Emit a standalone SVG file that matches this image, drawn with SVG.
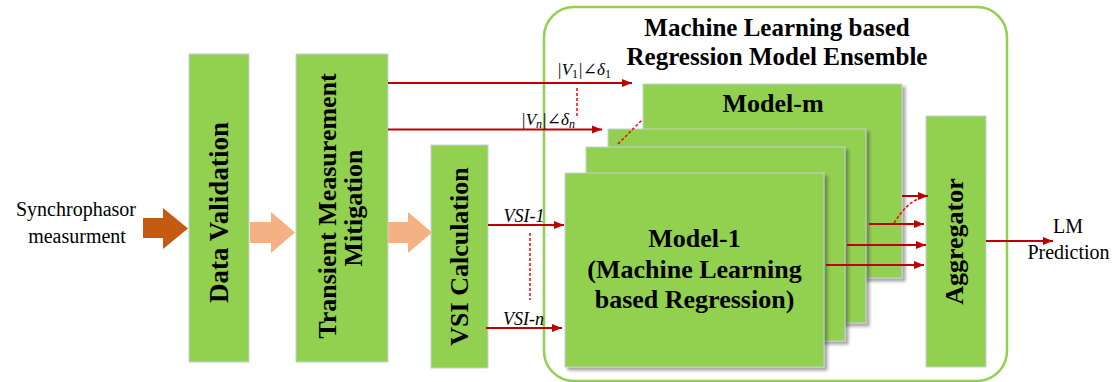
<svg xmlns="http://www.w3.org/2000/svg" width="1119" height="382" viewBox="0 0 1119 382">
<style>
.box{fill:#92D050;stroke:#c5d0da;stroke-width:1}
.bt{font-family:"Liberation Serif","Times New Roman",Tinos,"DejaVu Serif",serif;font-weight:bold;fill:#000}
.rt{font-family:"Liberation Serif","Times New Roman",Tinos,"DejaVu Serif",serif;fill:#000}
.red{stroke:#C00000;stroke-width:2;fill:none}
.dash{stroke:#FF0000;stroke-width:1.5;stroke-dasharray:3 2;fill:none}
.math{font-family:"Liberation Serif","Times New Roman","DejaVu Serif",serif;font-style:italic;font-size:17px;fill:#000}
</style>
<defs>
<marker id="ah" viewBox="0 0 10 10" refX="10" refY="5" markerWidth="10" markerHeight="10" markerUnits="userSpaceOnUse" orient="auto">
<path d="M0,1 L10,5 L0,9 z" fill="#C00000"/>
</marker>
<filter id="sh" x="-5%" y="-5%" width="115%" height="115%">
<feDropShadow dx="3" dy="3" stdDeviation="1.5" flood-color="#333" flood-opacity="0.45"/>
</filter>
</defs>

<g id="input-label">
<text class="rt" x="76" y="216" font-size="20" text-anchor="middle">Synchrophasor</text>
<text class="rt" x="77" y="243" font-size="20" text-anchor="middle">measurment</text>
</g>

<g id="block-arrows">
<path d="M143,218 L163,218 L163,208 L188,228.5 L163,249 L163,238 L143,238 z" fill="#C55A11"/>
<path d="M250,222 L271,222 L271,212 L295,232.5 L271,253 L271,243 L250,243 z" fill="#F4B183"/>
<path d="M388,222 L408,222 L408,212 L432,232.5 L408,253 L408,243 L388,243 z" fill="#F4B183"/>
</g>

<g id="data-validation">
<rect class="box" x="189" y="54" width="60" height="308"/>
<text class="bt" font-size="27" text-anchor="middle" transform="translate(228,212.5) rotate(-90)">Data Validation</text>
</g>

<g id="transient-mitigation">
<rect class="box" x="296" y="54" width="92" height="308"/>
<text class="bt" font-size="26" text-anchor="middle" transform="translate(336,206) rotate(-90)">Transient Measurement</text>
<text class="bt" font-size="26" text-anchor="middle" transform="translate(362,208) rotate(-90)">Mitigation</text>
</g>

<g id="vsi-calculation">
<rect class="box" x="431" y="145" width="57" height="223"/>
<text class="bt" font-size="26" text-anchor="middle" transform="translate(468,256.5) rotate(-90)">VSI Calculation</text>
</g>

<g id="ensemble">
<rect x="544" y="7" width="463" height="374" rx="30" ry="30" fill="none" stroke="#92D050" stroke-width="2.5"/>
<text class="bt" x="777" y="36" font-size="25" text-anchor="middle">Machine Learning based</text>
<text class="bt" x="777" y="65" font-size="25" text-anchor="middle">Regression Model Ensemble</text>
</g>

<g id="model-m">
<rect class="box" x="643" y="84" width="259" height="194" filter="url(#sh)"/>
<text class="bt" x="773" y="112" font-size="26" text-anchor="middle">Model-m</text>
</g>
<g id="model-3">
<rect class="box" x="608" y="129" width="258" height="194" filter="url(#sh)"/>
</g>
<g id="model-2">
<rect class="box" x="586" y="147" width="259" height="194" filter="url(#sh)"/>
</g>
<g id="model-1">
<rect class="box" x="565" y="173" width="259" height="194" filter="url(#sh)"/>
<text class="bt" x="694.5" y="247" font-size="26" text-anchor="middle">Model-1</text>
<text class="bt" x="694.5" y="278" font-size="26" text-anchor="middle">(Machine Learning</text>
<text class="bt" x="694.5" y="308" font-size="26" text-anchor="middle">based Regression)</text>
</g>

<g id="aggregator">
<rect class="box" x="926" y="116" width="60" height="251"/>
<text class="bt" font-size="26" text-anchor="middle" transform="translate(963,241.5) rotate(-90)">Aggregator</text>
</g>

<g id="output-label">
<text class="rt" x="1068" y="233" font-size="20" text-anchor="middle">LM</text>
<text class="rt" x="1068.5" y="259" font-size="20" text-anchor="middle">Prediction</text>
</g>

<g id="connectors">
<line class="red" x1="388" y1="83" x2="632" y2="83" marker-end="url(#ah)"/>
<line class="red" x1="388" y1="129.5" x2="602" y2="129.5" marker-end="url(#ah)"/>
<line class="red" x1="488" y1="225" x2="564" y2="225" marker-end="url(#ah)"/>
<line class="red" x1="486" y1="328" x2="562" y2="328" marker-end="url(#ah)"/>
<line class="red" x1="902" y1="196" x2="928" y2="196" marker-end="url(#ah)"/>
<line class="red" x1="869" y1="224" x2="924" y2="224" marker-end="url(#ah)"/>
<line class="red" x1="847" y1="245" x2="926" y2="245" marker-end="url(#ah)"/>
<line class="red" x1="826" y1="265" x2="924" y2="265" marker-end="url(#ah)"/>
<line class="red" x1="986" y1="241" x2="1053" y2="241" marker-end="url(#ah)"/>
<line class="dash" x1="577" y1="88" x2="577" y2="117"/>
<line class="dash" x1="618" y1="144" x2="642" y2="120"/>
<line class="dash" x1="530" y1="233" x2="530" y2="300"/>
<path class="dash" d="M894,223 Q906,204 918,199"/>
<text class="math" x="557" y="75">|V<tspan font-size="12" font-style="normal" dy="3">1</tspan><tspan dy="-3">|∠δ</tspan><tspan font-size="12" font-style="normal" dy="3">1</tspan></text>
<text class="math" x="521" y="125">|V<tspan font-size="12" dy="3">n</tspan><tspan dy="-3">|∠δ</tspan><tspan font-size="12" dy="3">n</tspan></text>
<text class="rt" x="524" y="222" font-size="18" font-style="italic" text-anchor="middle">VSI-1</text>
<text class="rt" x="523.5" y="325" font-size="18" font-style="italic" text-anchor="middle">VSI-n</text>
</g>
</svg>
